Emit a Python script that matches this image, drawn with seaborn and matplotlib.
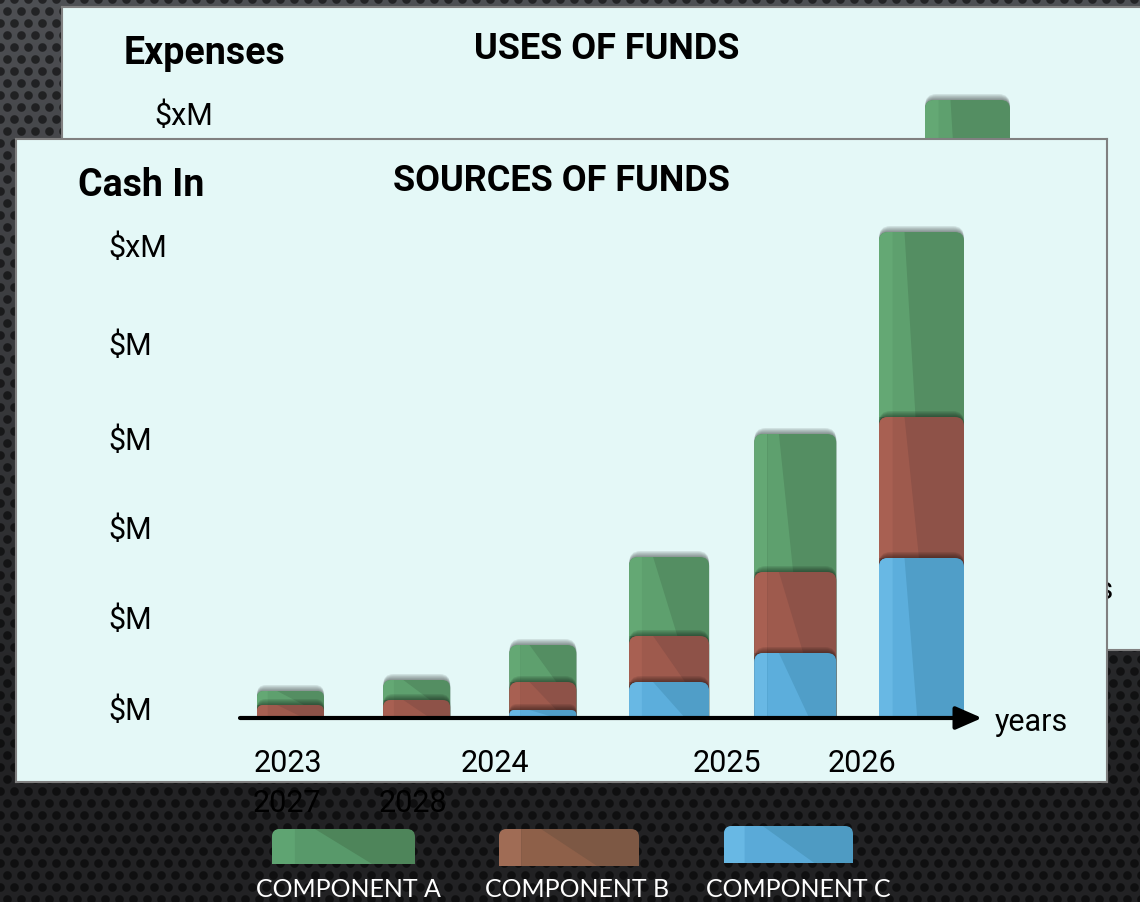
import numpy as np
import matplotlib
matplotlib.use("Agg")
import matplotlib.pyplot as plt
from matplotlib.patches import FancyBboxPatch, Polygon, Rectangle
import seaborn as sns

# ---------------------------------------------------------------- data
years = ["2023", "2024", "2025", "2026", "2027", "2028"]
comp_a = [1.4, 2.0, 3.7, 7.9, 13.8, 18.5]   # green, top of stack
comp_b = [1.3, 1.8, 2.8, 4.6, 8.1, 14.1]    # red, middle
comp_c = [0.0, 0.0, 0.8, 3.6, 6.5, 16.0]    # blue, bottom
y_labels = ["\\$M", "\\$M", "\\$M", "\\$M", "\\$M", "\\$xM"]
legend_names = ["COMPONENT A", "COMPONENT B", "COMPONENT C"]

# ---------------------------------------------------------------- style / layout (px)
W, H = 1140, 903
PW, PH = 1091, 643                  # slide panel size
FRONT = (16, 140)                   # front slide top-left corner
BACK = (62, 8)                      # back slide top-left corner
panel_color = "#e4f8f7"
bar_colors = {                      # light strip, mid, dark
    "A": ["#64a874", "#5ea06e", "#548e62"],
    "B": ["#a86052", "#9e5a4d", "#8e5248"],
    "C": ["#68b8e4", "#5caedc", "#509ec8"],
}
legend_colors = [
    ["#5fa472", "#58996a", "#4e855a"],
    ["#a06c55", "#8e6049", "#7d5844"],
    ["#68b8e4", "#5aaad8", "#4e9bc3"],
]
bar_w_px = [67, 67, 67, 80, 82, 85]
XPP = 1 / 126.2                     # category units per pixel
YPP = 0.1                           # value units per pixel
year_xy = [(272, 632), (479, 632), (711, 632), (846, 632), (271, 672), (397, 672)]
ylab_base = [580, 489, 399, 310, 215, 117]

sns.set_style("white")
plt.rcParams["font.family"] = ["Roboto", "DejaVu Sans"]
plt.rcParams["text.color"] = "black"


def rbox(x0, y0, w, h, r_px, **kw):
    return FancyBboxPatch((x0, y0), w, h,
                          boxstyle=f"round,pad=0,rounding_size={r_px * XPP}",
                          mutation_aspect=YPP / XPP, **kw)


def shade(ax, x0, w, y_top, y_bot, cols, clip, seg_px, z):
    f = 0.3 + 0.4 * min(1.0, 60.0 / max(seg_px, 1.0))
    strip = Polygon([(x0, y_top), (x0 + 0.16 * w, y_top), (x0 + 0.16 * w, y_bot), (x0, y_bot)],
                    closed=True, fc=cols[0], ec="none", zorder=z)
    mid = Polygon([(x0 + 0.16 * w, y_top), (x0 + 0.3 * w, y_top), (x0 + f * w, y_bot), (x0 + 0.16 * w, y_bot)],
                  closed=True, fc=cols[1], ec="none", zorder=z)
    for p in (strip, mid):
        ax.add_patch(p)
        p.set_clip_path(clip)


def draw_bars(ax):
    a, b, c = (np.array(v, float) for v in (comp_a, comp_b, comp_c))
    tops = [c + b + a, c + b, c]
    lows = [c + b, c, np.zeros_like(c)]
    for k, key in enumerate(["A", "B", "C"]):
        n0 = len(ax.patches)
        sns.barplot(x=years, y=tops[k], color=bar_colors[key][2], saturation=1,
                    width=0.6, errorbar=None, ax=ax)
        rects = list(ax.patches[n0:])
        z = 1 + 2 * k
        for rect in rects:
            rect.set_visible(False)
            h = rect.get_height()
            if h <= 0:
                continue
            cx = rect.get_x() + rect.get_width() / 2
            i = int(round(cx))
            w = bar_w_px[i] * XPP
            x0 = cx - w / 2
            seg_px = (h - lows[k][i]) / YPP
            r_px = min(9.0, 3 + 0.25 * seg_px)
            ext = r_px * YPP
            # soft shadow above the top edge
            for s in range(1, 6):
                sh = rbox(x0, -ext, w, h + ext + 1.2 * s * YPP, r_px + 0.5 * s,
                          fc="black", ec="none", alpha=0.09, zorder=z - 0.5)
                ax.add_patch(sh)
            body = rbox(x0, -ext, w, h + ext, r_px, fc=bar_colors[key][2], ec="none", zorder=z)
            ax.add_patch(body)
            shade(ax, x0, w, h, lows[k][i], bar_colors[key], body, seg_px, z + 0.1)


def covered(left, top, tx, ty):
    # True when a label of the back slide sits under the front slide
    ax_, ay_ = left + tx, top + ty
    return (FRONT[0] < ax_ < FRONT[0] + PW) and (FRONT[1] < ay_ - 10 < FRONT[1] + PH)


def draw_panel(left, top, title, heading, z, back=False):
    pax = fig.add_axes([left / W, 1 - (top + PH) / H, PW / W, PH / H], zorder=z)
    pax.set_facecolor(panel_color)
    pax.set_xlim(0, PW)
    pax.set_ylim(PH, 0)
    pax.set_xticks([])
    pax.set_yticks([])
    for sp in pax.spines.values():
        sp.set_color("#808080")
        sp.set_linewidth(1.5)

    pax.text(62, 56, heading, fontsize=27, fontweight="bold", ha="left", va="baseline")
    pax.text(545, 51, title, fontsize=26, fontweight="bold", ha="center", va="baseline")
    for lab, yb in zip(y_labels, ylab_base):
        if back and covered(left, top, 92, yb):
            continue
        pax.text(92, yb, lab, fontsize=22, ha="left", va="baseline")
    for yr, (tx, ty) in zip(years, year_xy):
        if back and covered(left, top, tx, ty):
            continue
        pax.text(tx, ty, yr, fontsize=22, ha="center", va="baseline", clip_on=False)
    pax.text(979, 591, "years", fontsize=22, ha="left", va="baseline")

    bax = fig.add_axes([(left + 224) / W, 1 - (top + 579) / H, 742 / W, 520 / H], zorder=z + 0.5)
    bax.patch.set_alpha(0)
    draw_bars(bax)
    bax.set_xlim(-50.5 * XPP, -50.5 * XPP + 742 * XPP)
    bax.set_ylim(0, 520 * YPP)
    bax.set_axis_off()
    bax.annotate("", xy=(1.0, 0), xytext=(0, 0), xycoords="axes fraction",
                 arrowprops=dict(arrowstyle="-|>,head_length=0.8,head_width=0.35", lw=3,
                                 color="black", shrinkA=0, shrinkB=0, mutation_scale=20),
                 annotation_clip=False, zorder=10)


fig = plt.figure(figsize=(W / 100, H / 100), dpi=100)

# dotted dark background
yy, xx = np.mgrid[0:H, 0:W].astype(float)
base = 78 - 44 * np.clip(yy / 760, 0, 1)
row = np.round(yy / 12)
dx = (xx - 7 * (row % 2) + 7) % 14 - 7
dy = yy - row * 12
dot = np.clip(4.8 - np.hypot(dx, dy), 0, 1)
val = base * (1 - 0.55 * dot)
img = np.clip(np.dstack([val, val * 1.02, val * 1.07]) / 255, 0, 1)

bg = fig.add_axes([0, 0, 1, 1], zorder=0)
bg.imshow(img, extent=(0, W, H, 0), aspect="auto", interpolation="bilinear")
bg.set_xlim(0, W)
bg.set_ylim(H, 0)
bg.set_axis_off()

# legend swatches at the bottom
swatch_boxes = [(272, 830, 143, 35), (499, 830, 140, 37), (724, 827, 129, 37)]
label_x = [348.5, 577.5, 798]
for name, (x, y, w, h), cols, tx in zip(legend_names, swatch_boxes, legend_colors, label_x):
    clip = Rectangle((x - 2, y - 2), w + 4, h + 2, transform=bg.transData)
    sw = FancyBboxPatch((x, y), w, h + 12, boxstyle="round,pad=0,rounding_size=8",
                        fc=cols[2], ec="none", zorder=2)
    bg.add_patch(sw)
    sw.set_clip_path(clip)
    shade(bg, x, w, y, y + h, cols, sw, h, 2.1)
    bg.text(tx, 897, name, color="white", fontsize=18, ha="center", va="baseline",
            family=["Lato", "DejaVu Sans"])

# back slide, then front slide
draw_panel(BACK[0], BACK[1], "USES OF FUNDS", "Expenses", 1, back=True)
draw_panel(FRONT[0], FRONT[1], "SOURCES OF FUNDS", "Cash In", 3)

fig.savefig("out.png", dpi=100)
